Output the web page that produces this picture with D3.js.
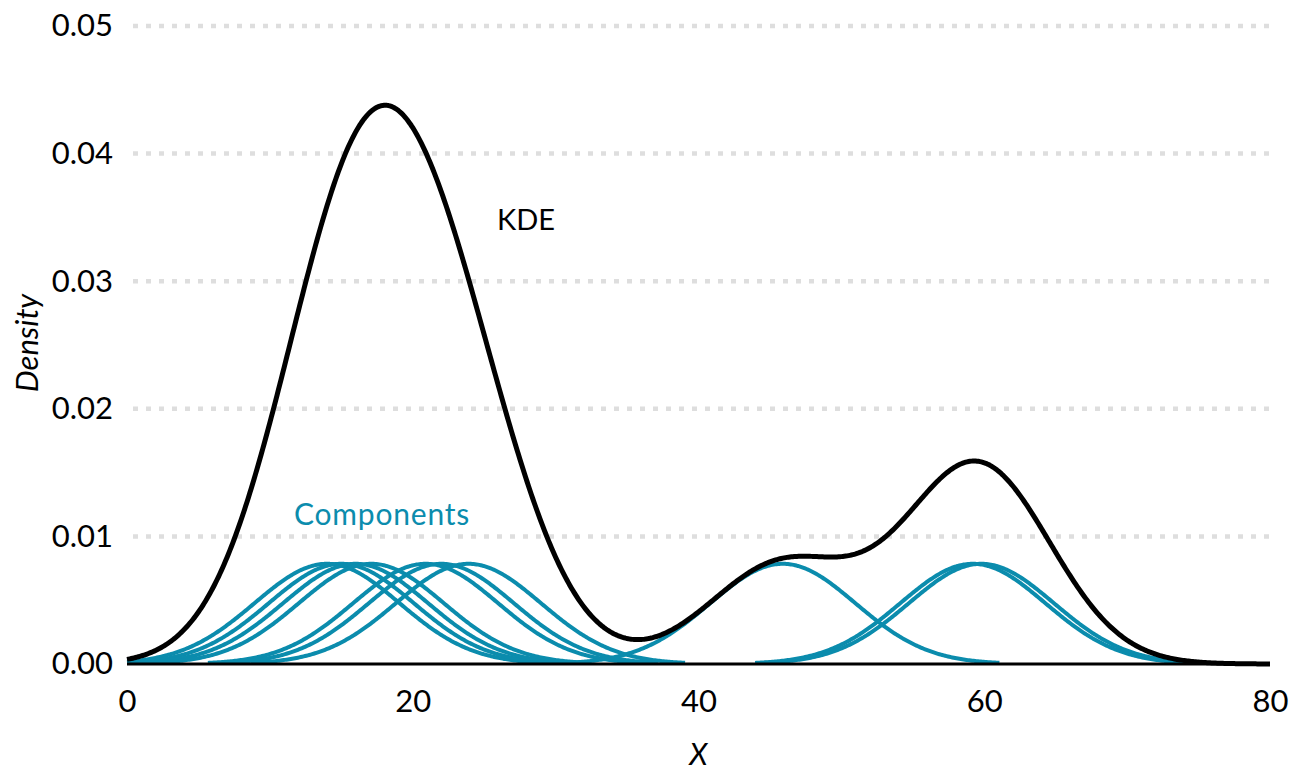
<!DOCTYPE html>
<html><head><meta charset="utf-8">
<script src="https://cdn.jsdelivr.net/npm/d3@7"></script>
<style>
html,body{margin:0;padding:0;background:#fff;}
svg text{font-family:Lato,"Noto Sans",sans-serif;}
</style></head>
<body><svg id="chart" width="1301" height="774"></svg>
<script>
// Data
const componentMeans = [14.0, 15.0, 16.0, 17.1, 20.9, 22.0, 23.9, 45.9, 59.2, 59.8];
const bandwidth = 5.08;
const xTicks = [0, 20, 40, 60, 80];
const yTicks = [0.00, 0.01, 0.02, 0.03, 0.04, 0.05];
const labels = {kde: "KDE", comp: "Components", x: "X", y: "Density"};

const W = 1301, H = 774;
const m = {l:127, r:31, t:26, b:110};
const svg = d3.select("#chart");
const x = d3.scaleLinear().domain([0,80]).range([m.l, W-m.r]);
const y = d3.scaleLinear().domain([0,0.05]).range([H-m.b, m.t]);
const teal = "#0b8cad";

const n = componentMeans.length;
const norm = 1/(n*bandwidth*Math.sqrt(2*Math.PI));
const comp = (mu, v) => norm*Math.exp(-((v-mu)**2)/(2*bandwidth*bandwidth));

// gridlines
svg.append("g").selectAll("line").data(yTicks.filter(d=>d>0)).join("line")
  .attr("x1", x(0)+6).attr("x2", W-m.r)
  .attr("y1", d=>y(d)).attr("y2", d=>y(d))
  .attr("stroke", "#dedede").attr("stroke-width", 4.5)
  .attr("stroke-dasharray", "5 8");

// axes labels
const yAxis = d3.axisLeft(y).tickValues(yTicks).tickFormat(d3.format(".2f")).tickSize(0).tickPadding(14);
const gy = svg.append("g").attr("transform", `translate(${m.l},0)`).call(yAxis);
gy.select(".domain").remove();
gy.selectAll("text").attr("font-size", 31).attr("fill", "#000").style("font-family","Lato");

const xAxis = d3.axisBottom(x).tickValues(xTicks).tickFormat(d3.format("d")).tickSize(0).tickPadding(26);
const gx = svg.append("g").attr("transform", `translate(0,${H-m.b})`).call(xAxis);
gx.select(".domain").remove();
gx.selectAll("text").attr("font-size", 31).attr("fill", "#000").style("font-family","Lato");

// components
const line = d3.line().x(d=>x(d[0])).y(d=>y(d[1])).curve(d3.curveLinear);
const compG = svg.append("g");
componentMeans.forEach(mu => {
  const lo = Math.max(0, mu-3*bandwidth), hi = Math.min(80, mu+3*bandwidth);
  const pts = d3.range(lo, hi+1e-9, 0.1).map(v=>[v, comp(mu, v)]);
  compG.append("path").datum(pts).attr("d", line)
    .attr("fill","none").attr("stroke", teal).attr("stroke-width", 4)
    .attr("stroke-linejoin","round");
});

// KDE
const kdePts = d3.range(0, 80.0001, 0.1).map(v=>[v, d3.sum(componentMeans, mu=>comp(mu, v))]);
svg.append("path").datum(kdePts).attr("d", line)
  .attr("fill","none").attr("stroke","#000").attr("stroke-width",5).attr("stroke-linejoin","round");

// baseline
svg.append("line").attr("x1", x(0)).attr("x2", x(80)).attr("y1", y(0)).attr("y2", y(0))
  .attr("stroke","#000").attr("stroke-width",3);

// annotations
svg.append("text").attr("x", 497).attr("y", 230).attr("font-size", 29).attr("fill","#000").text(labels.kde);
svg.append("text").attr("x", 294).attr("y", 525).attr("font-size", 30).attr("letter-spacing", 0.8).attr("fill", teal).text(labels.comp);

// axis titles
svg.append("text").attr("x", (x(0)+x(80))/2).attr("y", 765).attr("text-anchor","middle")
  .attr("font-size", 30).attr("font-style","italic").attr("fill","#000").text(labels.x);
svg.append("text").attr("transform", `translate(38,${(y(0)+y(0.05))/2 - 2}) rotate(-90)`)
  .attr("text-anchor","middle").attr("font-size", 31).attr("font-style","italic").attr("fill","#000").text(labels.y);
</script></body></html>
